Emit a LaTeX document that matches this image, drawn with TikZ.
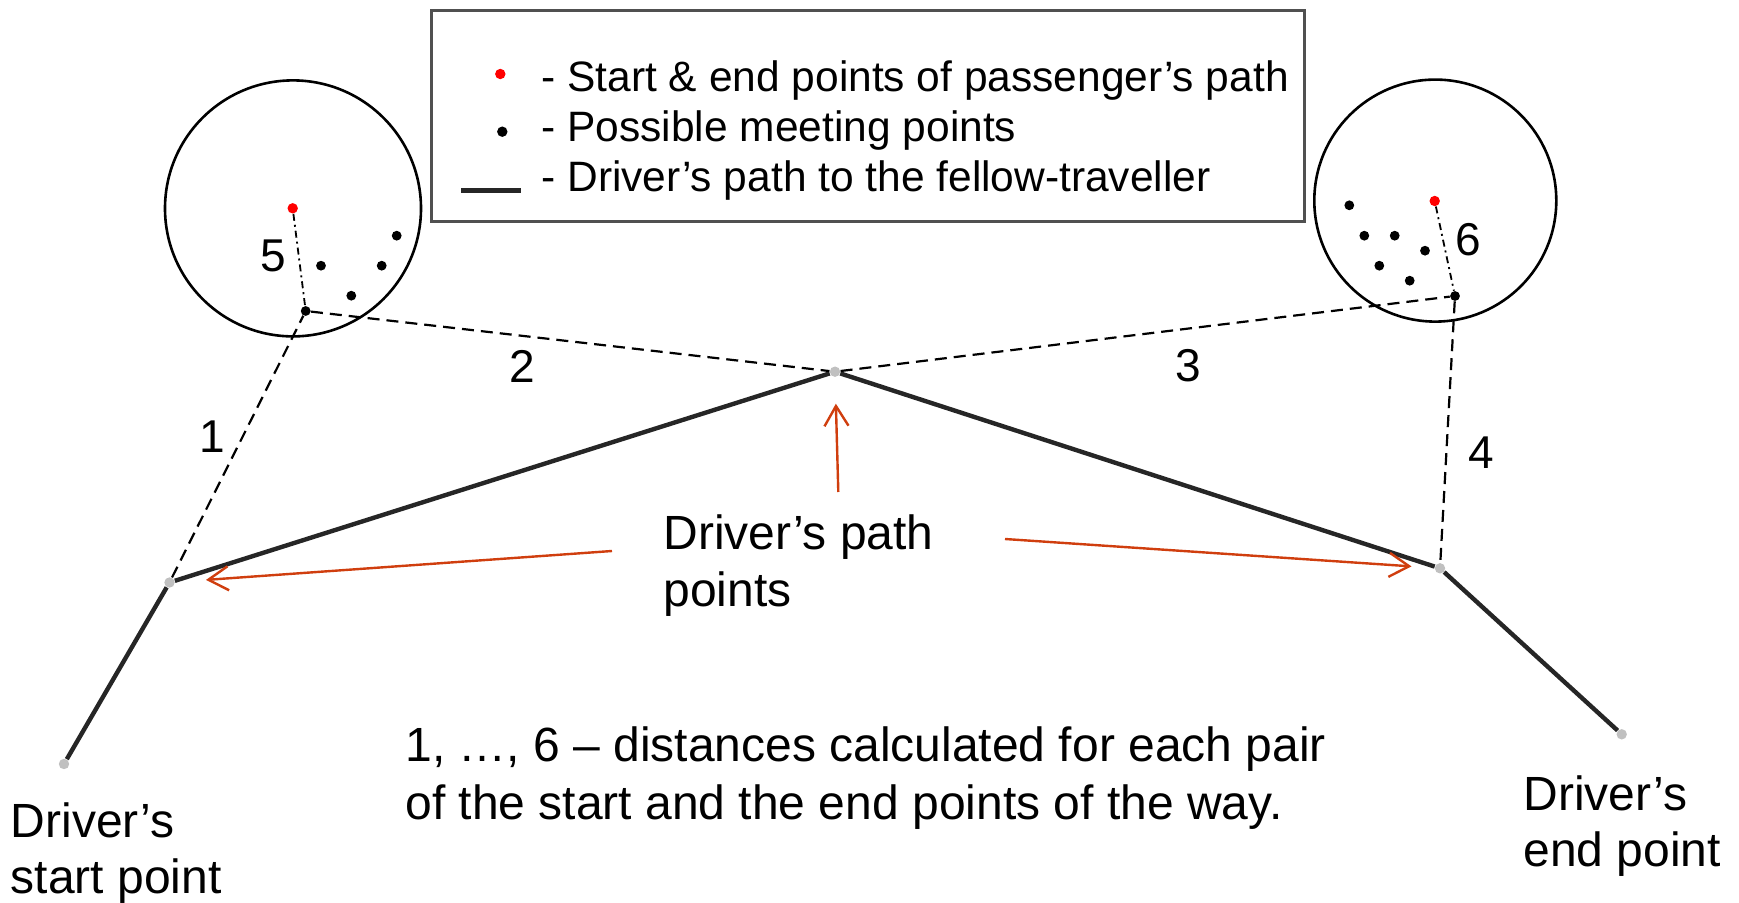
\documentclass[tikz,border=0pt]{standalone}
\usepackage{fontspec}
\setmainfont{Liberation Sans}
\usetikzlibrary{arrows.meta}
\definecolor{arrowred}{RGB}{208,62,14}
\definecolor{pathgray}{RGB}{38,38,38}
\definecolor{dotgray}{RGB}{192,192,192}
\definecolor{boxgray}{RGB}{80,80,80}

\begin{document}
\begin{tikzpicture}[x=0.5pt,y=-0.5pt,
  pathpt/.style={circle,fill=dotgray,inner sep=0pt,minimum size=5.2pt},
  meetpt/.style={circle,fill=black,inner sep=0pt,minimum size=4.9pt},
  paspt/.style={circle,fill=red,inner sep=0pt,minimum size=5.2pt},
  zone/.style={draw,circle,line width=1.3pt,inner sep=0pt},
  route/.style={pathgray,line width=2.2pt},
  dist/.style={line width=1.1pt,dash pattern=on 6pt off 3.5pt},
  hop/.style={line width=0.9pt,dash pattern=on 3.5pt off 2pt on 1pt off 2pt},
  pointer/.style={arrowred,line width=1.2pt,-{Straight Barb[length=10pt,width=12pt]}},
  big/.style={inner sep=0pt,align=left,anchor=base west,font=\fontsize{24}{28.8}\selectfont},
  num/.style={inner sep=0pt,font=\fontsize{23}{27}\selectfont},
  leg/.style={inner sep=0pt,anchor=base west,font=\fontsize{21.25}{25}\selectfont}]
 \useasboundingbox (0,0) rectangle (1739,903);

 \node[pathpt] (drvstart) at (64,764) {};
 \node[pathpt] (pt1) at (169.5,582.5) {};
 \node[pathpt] (ptmid) at (835,371.7) {};
 \node[pathpt] (pt2) at (1440,568.3) {};
 \node[pathpt] (drvend) at (1621.7,734.3) {};

 \node[paspt] (pas1) at (292.7,208.3) {};
 \node[paspt] (pas2) at (1434.7,201) {};
 \node[zone,minimum size=128pt] (zone1) at (293,208.4) {};
 \node[zone,minimum size=121pt] (zone2) at (1435.3,200.6) {};

 \node[meetpt] (meet1) at (305.7,311) {};
 \node[meetpt] at (321,265.7) {};
 \node[meetpt] at (351.3,295.7) {};
 \node[meetpt] at (381.7,265.7) {};
 \node[meetpt] at (396.7,235.7) {};

 \node[meetpt] (meet2) at (1455,296) {};
 \node[meetpt] at (1349.3,205.3) {};
 \node[meetpt] at (1364.3,235.7) {};
 \node[meetpt] at (1394.7,235.7) {};
 \node[meetpt] at (1425,250.7) {};
 \node[meetpt] at (1379.3,265.7) {};
 \node[meetpt] at (1409.7,280.7) {};

 \draw[route] (drvstart) -- (pt1);
 \draw[route] (pt1) -- (ptmid);
 \draw[route] (ptmid) -- (pt2);
 \draw[route] (pt2) -- (drvend);

 \draw[dist] (pt1) -- (meet1);
 \draw[dist] (meet1) -- (ptmid);
 \draw[dist] (ptmid) -- (meet2);
 \draw[dist] (meet2) -- (pt2);
 \draw[hop] (pas1) -- (meet1);
 \draw[hop] (pas2) -- (meet2);

 \node[num] (d1) at (212.7,437) {1};
 \node[num] (d2) at (522.4,366) {2};
 \node[num] (d3) at (1187.8,366) {3};
 \node[num] (d4) at (1481.7,452.5) {4};
 \node[num] (d5) at (273.3,255.7) {5};
 \node[num] (d6) at (1468.3,240) {6};

 \node[big] (ptlabel) at (663,606.6) {Driver’s path\\points};
 \coordinate (fromL) at (612,551);
 \coordinate (fromR) at (1005,539);
 \coordinate (fromU) at (838.3,492);
 \draw[pointer,shorten >=15.5pt] (fromL) -- (pt1);
 \draw[pointer,shorten >=13.2pt] (fromU) -- (ptmid);
 \draw[pointer,shorten >=11.5pt] (fromR) -- (pt2);

 \node[big,font=\fontsize{24}{28}\selectfont] (startlabel) at (10.5,893) {Driver’s\\start point};
 \node[big,font=\fontsize{24}{28}\selectfont] (endlabel) at (1523,866) {Driver’s\\end point};
 \node[big] (note) at (405,819.4)
  {1, …, 6 – distances calculated for each pair\\of the start and the end points of the way.};

 \node[draw=boxgray,line width=1.4pt,anchor=north west,inner sep=0pt,
  minimum width=436.5pt,minimum height=105.5pt] (legend) at (430,9) {};
 \node[paspt] (legpas) at (500.3,74) {};
 \node[meetpt,minimum size=5.2pt] (legmeet) at (502.3,131.7) {};
 \draw[route] (461,190.7) -- (521,190.7);
 \node[leg] (leg1) at (541,91.7) {- Start \& end points of passenger’s path};
 \node[leg] (leg2) at (541,141.7) {- Possible meeting points};
 \node[leg] (leg3) at (541,191.7) {- Driver’s path to the fellow-traveller};
\end{tikzpicture}
\end{document}
